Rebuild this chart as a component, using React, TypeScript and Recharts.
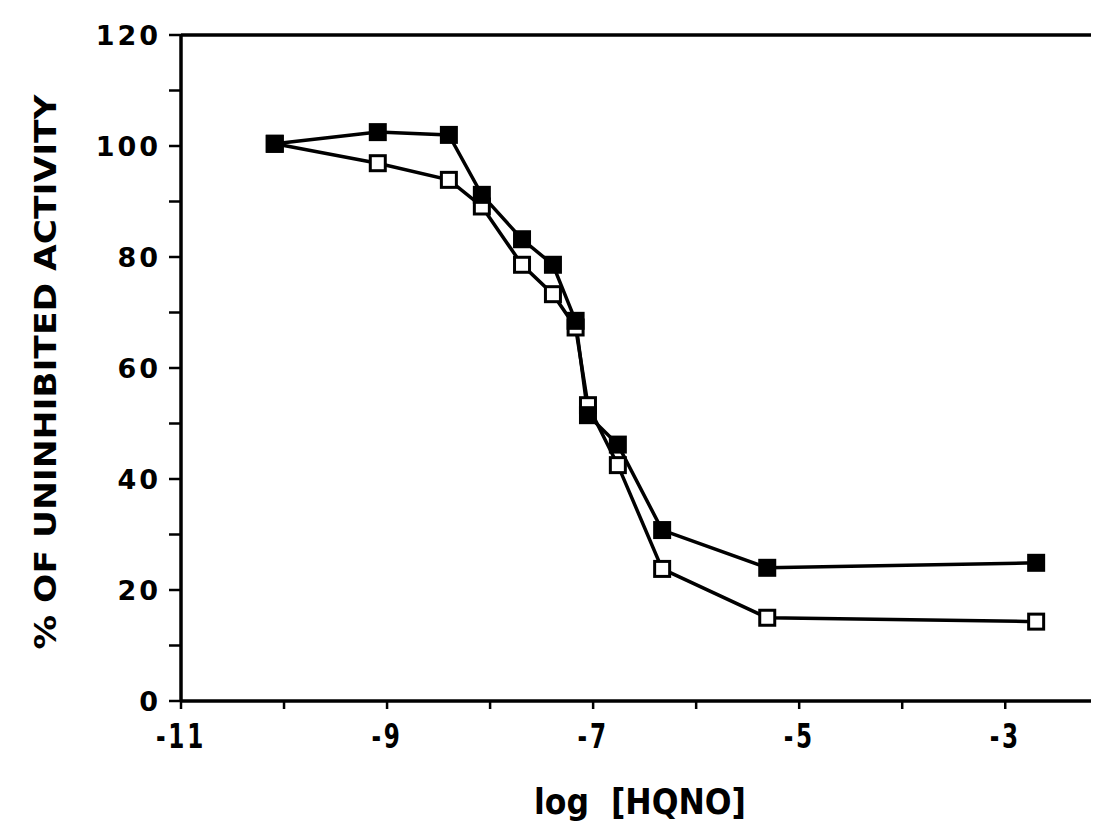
import { Line, LineChart, ReferenceLine, XAxis, YAxis } from 'recharts'

// log [HQNO] positions (same for both series)
const logHqno = [-10.09, -9.09, -8.4, -8.08, -7.69, -7.39, -7.17, -7.05, -6.76, -6.33, -5.31, -2.7]
const filledValues = [100.4, 102.5, 102.0, 91.2, 83.2, 78.6, 68.5, 51.5, 46.2, 30.8, 24.0, 24.9]
const openValues = [100.4, 96.9, 93.9, 89.1, 78.6, 73.3, 67.3, 53.3, 42.5, 23.8, 15.0, 14.3]

const xTicks = [-11, -10, -9, -8, -7, -6, -5, -4, -3]
const xLabelled = [-11, -9, -7, -5, -3]
const yTicks = [0, 10, 20, 30, 40, 50, 60, 70, 80, 90, 100, 110, 120]
const yLabelled = [0, 20, 40, 60, 80, 100, 120]

const filledData = logHqno.map((x, i) => ({ x, y: filledValues[i] }))
const openData = logHqno.map((x, i) => ({ x, y: openValues[i] }))

const INK = '#000'
const FONT = '"DejaVu Sans", Verdana, sans-serif'

function FilledSquare({ cx, cy }: any) {
  if (cx == null || cy == null) return null
  return <rect x={cx - 9} y={cy - 9} width={18} height={18} fill={INK} />
}

function OpenSquare({ cx, cy }: any) {
  if (cx == null || cy == null) return null
  return <rect x={cx - 7.5} y={cy - 7.5} width={15} height={15} fill="#fff" stroke={INK} strokeWidth={3} />
}

// condensed look: draw DejaVu bold and squeeze it horizontally
function XTick({ x, y, payload }: any) {
  const v = payload?.value
  if (!xLabelled.includes(v)) return null
  return (
    <g transform={`translate(${x},${y}) scale(0.68,1)`}>
      <text
        x={0}
        y={25}
        textAnchor="middle"
        style={{ fontFamily: FONT, fontSize: 34, fontWeight: 700, fill: INK, letterSpacing: 4 }}
      >
        {String(v)}
      </text>
    </g>
  )
}

function YTick({ x, y, payload }: any) {
  const v = payload?.value
  if (!yLabelled.includes(v)) return null
  return (
    <text
      x={x}
      y={y}
      textAnchor="end"
      dominantBaseline="central"
      style={{ fontFamily: FONT, fontSize: 27, fontWeight: 700, fill: INK, letterSpacing: 3 }}
    >
      {String(v)}
    </text>
  )
}

export default function App() {
  return (
    <LineChart
      width={1091}
      height={826}
      margin={{ top: 27, right: 0, left: 0, bottom: 93 }}
      style={{ background: '#fff' }}
    >
      <XAxis
        type="number"
        dataKey="x"
        domain={[-11, -2.09]}
        ticks={xTicks}
        allowDataOverflow
        tick={<XTick />}
        tickSize={8}
        tickMargin={14}
        height={40}
        axisLine={{ stroke: INK, strokeWidth: 3.5 }}
        tickLine={{ stroke: INK, strokeWidth: 2.5 }}
        label={{
          content: () => (
            <text
              x={632}
              y={806}
              textAnchor="middle"
              textLength={212}
              lengthAdjust="spacingAndGlyphs"
              style={{ fontFamily: FONT, fontSize: 36, fontWeight: 700, fill: INK, whiteSpace: 'pre' }}
            >
              log  [HQNO]
            </text>
          ),
        }}
      />
      <YAxis
        type="number"
        domain={[0, 120]}
        ticks={yTicks}
        width={173}
        tick={<YTick />}
        tickSize={12}
        tickMargin={8}
        axisLine={{ stroke: INK, strokeWidth: 3.5 }}
        tickLine={{ stroke: INK, strokeWidth: 2.5 }}
        label={{
          content: () => (
            <text
              x={37}
              y={364}
              transform="rotate(-90 37 364)"
              textAnchor="middle"
              dominantBaseline="central"
              textLength={555}
              lengthAdjust="spacingAndGlyphs"
              style={{ fontFamily: FONT, fontSize: 30, fontWeight: 700, fill: INK }}
            >
              % OF UNINHIBITED ACTIVITY
            </text>
          ),
        }}
      />
      <ReferenceLine y={120} stroke={INK} strokeWidth={3.5} />
      <Line
        data={openData}
        dataKey="y"
        stroke={INK}
        strokeWidth={3.5}
        dot={<OpenSquare />}
        activeDot={false}
        isAnimationActive={false}
      />
      <Line
        data={filledData}
        dataKey="y"
        stroke={INK}
        strokeWidth={3.5}
        dot={<FilledSquare />}
        activeDot={false}
        isAnimationActive={false}
      />
    </LineChart>
  )
}
